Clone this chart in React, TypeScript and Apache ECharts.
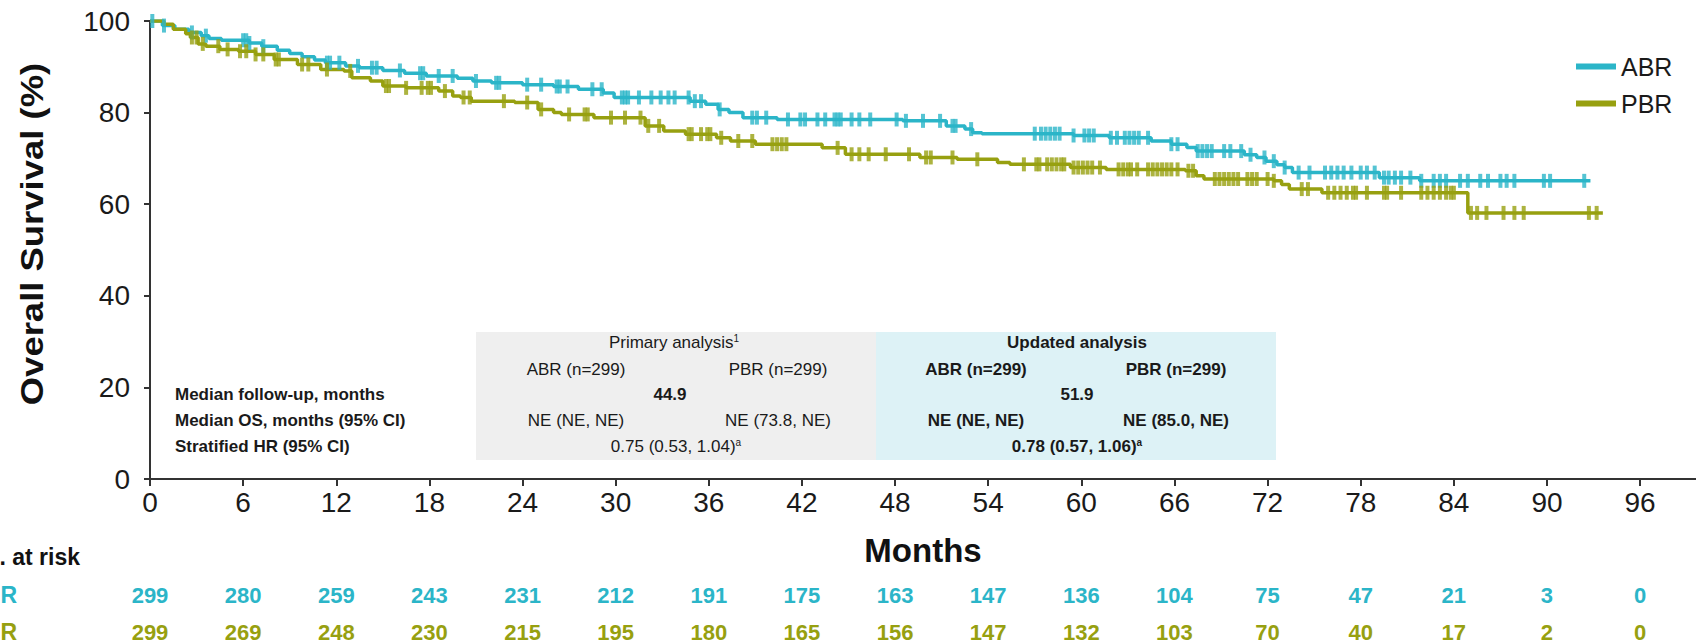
import React, { useEffect, useRef } from "react";
import * as echarts from "echarts";

// ---------- data ----------
const monthTicks = [0, 6, 12, 18, 24, 30, 36, 42, 48, 54, 60, 66, 72, 78, 84, 90, 96];

const abrTimes = [0, 0.8, 1.6, 2.5, 3.3, 3.8, 4.6, 6.4, 7.2, 8.2, 9.0, 9.8, 10.6, 11.3, 12.6, 13.5, 15.0, 16.4, 17.8, 19.8, 20.8, 22.0, 24.0, 26.0, 27.6, 29.2, 29.9, 34.8, 35.8, 36.6, 37.3, 38.2, 40.4, 48.5, 51.3, 52.5, 53.0, 53.6, 59.5, 61.8, 64.5, 65.8, 66.8, 67.4, 70.5, 71.3, 71.9, 72.6, 73.1, 73.6, 79.2, 81.8, 92.8];
const abrSurv = [100, 99.0, 98.2, 97.5, 96.8, 96.2, 95.8, 95.2, 94.5, 93.6, 92.9, 92.2, 91.5, 90.9, 90.2, 89.8, 89.2, 88.6, 88.0, 87.5, 86.9, 86.5, 86.1, 85.7, 85.1, 84.3, 83.3, 82.5, 81.8, 80.7, 80.0, 78.9, 78.5, 78.2, 77.1, 76.4, 75.6, 75.4, 75.0, 74.5, 73.8, 73.1, 72.4, 71.6, 70.8, 70.2, 69.4, 68.6, 68.0, 66.9, 65.8, 65.1, 65.1];

const pbrTimes = [0, 0.9, 1.5, 2.3, 2.6, 3.1, 3.6, 4.5, 5.7, 6.8, 8.0, 9.5, 11.0, 12.5, 13.0, 14.2, 15.0, 16.5, 18.6, 19.5, 20.0, 20.7, 23.5, 25.0, 26.0, 26.5, 28.6, 31.9, 33.1, 34.5, 36.5, 37.4, 39.0, 43.3, 44.8, 49.6, 52.0, 54.6, 55.4, 59.3, 61.6, 66.7, 67.4, 67.9, 72.4, 72.9, 73.4, 75.5, 84.9, 93.6];
const pbrSurv = [100, 99.3, 98.2, 97.2, 96.4, 95.0, 94.5, 93.8, 93.4, 92.7, 91.6, 90.5, 89.4, 89.1, 87.6, 86.9, 85.8, 85.4, 84.7, 83.6, 83.3, 82.5, 82.2, 80.7, 80.0, 79.6, 78.9, 77.1, 76.0, 75.3, 74.5, 73.8, 73.1, 72.3, 70.9, 70.2, 69.8, 69.1, 68.7, 68.0, 67.6, 67.3, 66.2, 65.5, 65.1, 64.3, 63.3, 62.5, 58.1, 58.1];

const abrCensored = [0.15, 0.9, 2.7, 3.6, 6.0, 6.2, 6.4, 7.3, 11.4, 11.6, 12.2, 13.4, 14.3, 14.6, 16.1, 17.4, 17.6, 18.6, 19.5, 21.0, 22.3, 22.5, 24.3, 25.2, 26.2, 26.4, 26.9, 28.5, 29.1, 30.4, 30.6, 30.8, 31.5, 32.3, 32.9, 33.4, 33.8, 34.7, 35.1, 35.5, 36.7, 38.8, 39.1, 39.7, 41.1, 41.9, 42.2, 43.0, 43.5, 44.1, 44.3, 44.5, 45.2, 45.7, 46.4, 48.1, 48.7, 49.8, 50.9, 51.7, 51.9, 52.9, 57.0, 57.4, 57.7, 58.0, 58.3, 58.6, 59.5, 60.2, 60.5, 60.8, 61.9, 62.3, 62.8, 63.1, 63.4, 63.7, 64.3, 65.8, 66.2, 67.5, 67.8, 68.1, 68.4, 69.2, 69.6, 70.3, 70.9, 71.8, 72.4, 73.1, 74.0, 74.7, 75.7, 76.1, 76.5, 76.9, 77.4, 78.0, 78.4, 78.9, 79.5, 79.8, 80.2, 80.6, 81.2, 81.9, 82.7, 83.1, 83.5, 84.4, 84.9, 85.7, 86.2, 87.0, 87.4, 87.9, 89.8, 90.2, 92.4];
const pbrCensored = [2.7, 3.0, 3.4, 4.4, 5.0, 5.8, 6.2, 6.8, 7.3, 8.1, 8.3, 9.8, 10.2, 11.4, 12.9, 15.2, 15.4, 16.5, 17.5, 17.9, 18.1, 19.0, 20.2, 20.6, 22.8, 24.3, 25.2, 27.0, 28.0, 28.2, 29.7, 30.6, 31.6, 32.1, 32.8, 34.7, 34.9, 35.5, 35.9, 36.1, 36.8, 37.9, 38.8, 40.1, 40.4, 40.7, 41.0, 44.3, 45.2, 45.7, 46.3, 47.4, 48.9, 50.0, 50.3, 51.7, 53.3, 56.3, 57.1, 57.3, 57.8, 58.1, 58.4, 58.7, 58.9, 59.5, 59.8, 60.1, 60.4, 60.7, 61.2, 62.4, 62.7, 63.0, 63.2, 63.6, 64.3, 64.6, 64.9, 65.2, 65.5, 65.8, 66.2, 66.9, 67.2, 68.6, 68.9, 69.2, 69.5, 69.8, 70.1, 70.7, 71.0, 71.3, 72.0, 72.4, 74.2, 74.6, 75.9, 76.3, 76.7, 77.1, 77.5, 77.7, 78.4, 79.5, 79.7, 80.6, 81.9, 82.3, 82.7, 83.1, 83.5, 83.8, 84.0, 85.1, 85.5, 86.1, 87.2, 87.9, 88.5, 92.7, 93.2];

const riskABR = [299, 280, 259, 243, 231, 212, 191, 175, 163, 147, 136, 104, 75, 47, 21, 3, 0];
const riskPBR = [299, 269, 248, 230, 215, 195, 180, 165, 156, 147, 132, 103, 70, 40, 17, 2, 0];

const armNames = ["ABR", "PBR"];
const tableRowLabels = ["Median follow-up, months", "Median OS, months (95% CI)", "Stratified HR (95% CI)"];
const primaryHeader = "Primary analysis";
const updatedHeader = "Updated analysis";
const armHeaders = ["ABR (n=299)", "PBR (n=299)"];
const followUp = ["44.9", "51.9"];
const primaryMedianOS = ["NE (NE, NE)", "NE (73.8, NE)"];
const updatedMedianOS = ["NE (NE, NE)", "NE (85.0, NE)"];
const hazardRatios = ["0.75 (0.53, 1.04)", "0.78 (0.57, 1.06)"];

// ---------- styles ----------
const COLORS: Record<string, string> = { ABR: "#2bb5c8", PBR: "#97a010" };
const FONT = "'Liberation Sans', Arial, Helvetica, sans-serif";
const INK = "#1a1a1a";

function survAt(times: number[], surv: number[], t: number) {
  let v = surv[0];
  for (let i = 0; i < times.length; i++) {
    if (times[i] <= t) v = surv[i];
    else break;
  }
  return v;
}

function txt(text: string, x: number, y: number, opts: any = {}) {
  return {
    type: "text",
    x,
    y,
    silent: true,
    style: {
      text,
      fontFamily: FONT,
      fontSize: opts.fontSize ?? 17,
      fontWeight: opts.bold ? "bold" : "normal",
      fill: opts.fill ?? INK,
      align: opts.align ?? "center",
      verticalAlign: "middle",
    },
  };
}

function supText(main: string, sup: string, x: number, y: number, bold: boolean) {
  const w = bold ? "bold" : "normal";
  return {
    type: "text",
    x,
    y,
    silent: true,
    style: {
      text: `{m|${main}}{s|${sup}}`,
      align: "center",
      verticalAlign: "middle",
      rich: {
        m: { fontFamily: FONT, fontSize: 17, fontWeight: w, fill: INK },
        s: { fontFamily: FONT, fontSize: 10, fontWeight: w, fill: INK, verticalAlign: "top" },
      },
    },
  };
}

export default function App() {
  const ref = useRef<HTMLDivElement>(null);

  useEffect(() => {
    if (!ref.current) return;
    const chart = echarts.init(ref.current, undefined, { renderer: "svg" });

    const xMax = 99.6;
    const baseAxis = {
      type: "value",
      min: 0,
      max: xMax,
      splitLine: { show: false },
    };

    const riskAxis = (arr: number[], color: string, offset: number) => ({
      ...baseAxis,
      position: "bottom",
      offset,
      axisLine: { show: false },
      axisTick: { show: false },
      axisLabel: {
        customValues: monthTicks,
        formatter: (v: number) => String(arr[monthTicks.indexOf(Math.round(v))]),
        color,
        fontFamily: FONT,
        fontSize: 22,
        fontWeight: "bold",
        margin: 0,
        verticalAlign: "middle",
      },
    });

    const gL = 476, gM = 876, gR = 1276;
    const rowY = [342, 369, 394, 420, 446];

    const graphic: any[] = [
      { type: "rect", silent: true, z: -10, shape: { x: gL, y: 332, width: gM - gL, height: 128 }, style: { fill: "#efefef" } },
      { type: "rect", silent: true, z: -10, shape: { x: gM, y: 332, width: gR - gM, height: 128 }, style: { fill: "#ddf2f6" } },
      // row labels
      txt(tableRowLabels[0], 175, rowY[2], { bold: true, align: "left" }),
      txt(tableRowLabels[1], 175, rowY[3], { bold: true, align: "left" }),
      txt(tableRowLabels[2], 175, rowY[4], { bold: true, align: "left" }),
      // primary analysis
      supText(primaryHeader, "1", 674, rowY[0], false),
      txt(armHeaders[0], 576, rowY[1]),
      txt(armHeaders[1], 778, rowY[1]),
      txt(followUp[0], 670, rowY[2], { bold: true }),
      txt(primaryMedianOS[0], 576, rowY[3]),
      txt(primaryMedianOS[1], 778, rowY[3]),
      supText(hazardRatios[0], "a", 676, rowY[4], false),
      // updated analysis
      txt(updatedHeader, 1077, rowY[0], { bold: true }),
      txt(armHeaders[0], 976, rowY[1], { bold: true }),
      txt(armHeaders[1], 1176, rowY[1], { bold: true }),
      txt(followUp[1], 1077, rowY[2], { bold: true }),
      txt(updatedMedianOS[0], 976, rowY[3], { bold: true }),
      txt(updatedMedianOS[1], 1176, rowY[3], { bold: true }),
      supText(hazardRatios[1], "a", 1077, rowY[4], true),
      // y axis title
      {
        type: "text",
        x: 32,
        y: 234,
        rotation: Math.PI / 2,
        scaleX: 1.14,
        silent: true,
        style: {
          text: "Overall Survival (%)",
          fontFamily: FONT,
          fontSize: 32,
          fontWeight: "bold",
          fill: "#111",
          align: "center",
          verticalAlign: "middle",
        },
      },
      // number at risk
      txt("No. at risk", 80, 557, { bold: true, align: "right", fontSize: 23, fill: "#111" }),
      txt(armNames[0], 17, 595, { bold: true, align: "right", fontSize: 23, fill: COLORS.ABR }),
      txt(armNames[1], 17, 632, { bold: true, align: "right", fontSize: 23, fill: COLORS.PBR }),
    ];

    const lineSeries = (name: string, times: number[], surv: number[]) => ({
      name,
      type: "line",
      step: "end",
      symbol: "none",
      data: times.map((t, i) => [t, surv[i]]),
      lineStyle: { width: 3.5, color: COLORS[name] },
      itemStyle: { color: COLORS[name] },
      z: 3,
      silent: true,
    });
    const censorSeries = (name: string, cens: number[], times: number[], surv: number[]) => ({
      name: name + " censored",
      type: "scatter",
      symbol: "rect",
      symbolSize: [4, 14],
      data: cens.map((t) => [t, survAt(times, surv, t)]),
      itemStyle: { color: COLORS[name] },
      z: 4,
      silent: true,
    });

    chart.setOption({
      animation: false,
      textStyle: { fontFamily: FONT },
      grid: { left: 150, right: 0, top: 21, bottom: 164, outerBoundsMode: "none" },
      legend: {
        data: [
          { name: "ABR", icon: "rect" },
          { name: "PBR", icon: "rect" },
        ],
        orient: "vertical",
        left: 1576,
        top: 54,
        padding: 0,
        itemWidth: 40,
        itemHeight: 6,
        itemGap: 12,
        selectedMode: false,
        textStyle: { fontFamily: FONT, fontSize: 25, color: INK },
      },
      xAxis: [
        {
          ...baseAxis,
          position: "bottom",
          axisLine: { show: true, onZero: false, lineStyle: { color: "#333", width: 2 } },
          axisTick: { show: true, customValues: monthTicks, length: 7, lineStyle: { color: "#333", width: 2 } },
          axisLabel: { customValues: monthTicks, fontFamily: FONT, fontSize: 28, color: INK, margin: 9 },
          name: "Months",
          nameLocation: "middle",
          nameGap: 71,
          nameTextStyle: { fontFamily: FONT, fontSize: 33, fontWeight: "bold", color: "#111", verticalAlign: "middle" },
        },
        riskAxis(riskABR, COLORS.ABR, 116),
        riskAxis(riskPBR, COLORS.PBR, 153),
      ],
      yAxis: {
        type: "value",
        min: 0,
        max: 100,
        interval: 20,
        axisLine: { show: true, lineStyle: { color: "#333", width: 2 } },
        axisTick: { show: true, length: 6, lineStyle: { color: "#333", width: 2 } },
        axisLabel: { fontFamily: FONT, fontSize: 28, color: INK, margin: 20 },
        splitLine: { show: false },
      },
      graphic,
      series: [
        lineSeries("ABR", abrTimes, abrSurv),
        lineSeries("PBR", pbrTimes, pbrSurv),
        censorSeries("ABR", abrCensored, abrTimes, abrSurv),
        censorSeries("PBR", pbrCensored, pbrTimes, pbrSurv),
      ],
    });

    return () => chart.dispose();
  }, []);

  return <div ref={ref} style={{ position: "absolute", left: 0, top: 0, width: 1696, height: 643 }} />;
}
